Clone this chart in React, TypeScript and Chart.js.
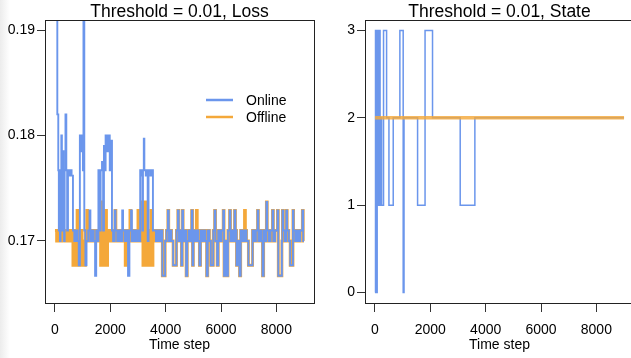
import React, { useEffect, useRef } from "react";
import { Chart, registerables } from "chart.js";

Chart.register(...registerables);

const FONT = '"Liberation Sans", Arial, Helvetica, sans-serif';
const BLUE = "#6b96ec";
const ORANGE = "#f4a83a";
const ORANGE_T = "rgba(244,168,58,0.82)";

const titles = ["Threshold = 0.01, Loss", "Threshold = 0.01, State"];
const seriesNames = ["Online", "Offline"];
const xTitle = "Time step";
const xTicks = [0, 2000, 4000, 6000, 8000];
const lossTicks = [0.17, 0.18, 0.19];
const stateTicks = [0, 1, 2, 3];

// [time step, loss]
const lossOnline: [number, number][] = [
  [0, 0.2], [85, 0.182], [120, 0.1767], [140, 0.171], [160, 0.1767], [180, 0.17], [200, 0.1765],
  [230, 0.18], [250, 0.171], [270, 0.1767], [290, 0.1785], [310, 0.1767], [330, 0.17], [350, 0.1767],
  [380, 0.182], [410, 0.1767], [440, 0.171], [470, 0.1767], [500, 0.1762], [540, 0.1767], [600, 0.1762],
  [650, 0.171], [700, 0.17], [760, 0.171], [820, 0.17], [860, 0.1677], [900, 0.18], [940, 0.1785],
  [970, 0.18], [1010, 0.1767], [1030, 0.2], [1060, 0.171], [1100, 0.1677], [1140, 0.17], [1200, 0.171],
  [1250, 0.1729], [1280, 0.17], [1340, 0.171], [1400, 0.17], [1450, 0.1667], [1490, 0.171], [1540, 0.17],
  [1570, 0.1767], [1620, 0.171], [1650, 0.1767], [1700, 0.1775], [1740, 0.171], [1770, 0.179], [1800, 0.1767],
  [1830, 0.18], [1880, 0.1785], [1920, 0.18], [1980, 0.1767], [2030, 0.1795], [2060, 0.171], [2100, 0.17],
  [2160, 0.1729], [2190, 0.171], [2250, 0.17], [2310, 0.171], [2370, 0.17], [2430, 0.1729], [2460, 0.171],
  [2520, 0.17], [2580, 0.171], [2640, 0.1667], [2690, 0.171], [2750, 0.1729], [2780, 0.17], [2840, 0.171],
  [2900, 0.17], [2960, 0.171], [3030, 0.17], [3080, 0.1767], [3130, 0.1762], [3160, 0.171], [3180, 0.1767],
  [3210, 0.1797], [3230, 0.1767], [3280, 0.1762], [3310, 0.1767], [3350, 0.17], [3380, 0.1767], [3450, 0.1762],
  [3480, 0.1767], [3540, 0.171],
  [3600, 0.171], [3650, 0.17], [3700, 0.171], [3760, 0.17], [3820, 0.171], [3880, 0.1667], [3980, 0.17],
  [4030, 0.171], [4080, 0.1729], [4110, 0.17], [4160, 0.171], [4210, 0.17], [4270, 0.1677], [4390, 0.171],
  [4440, 0.1729], [4470, 0.17], [4520, 0.171], [4570, 0.1677], [4600, 0.1729], [4630, 0.17], [4680, 0.171],
  [4740, 0.1667], [4780, 0.17], [4830, 0.171], [4880, 0.17], [4940, 0.1729], [4970, 0.1677], [5000, 0.171],
  [5060, 0.17], [5110, 0.171], [5170, 0.17], [5220, 0.1677], [5260, 0.171], [5310, 0.17], [5370, 0.171],
  [5430, 0.17], [5480, 0.1667], [5520, 0.171], [5580, 0.17], [5630, 0.1677], [5720, 0.171], [5770, 0.1729],
  [5800, 0.17], [5860, 0.1677], [5900, 0.171], [5960, 0.17], [6020, 0.171], [6080, 0.1729], [6110, 0.1667],
  [6160, 0.17], [6210, 0.1667], [6250, 0.171], [6310, 0.1729], [6340, 0.17], [6400, 0.171], [6450, 0.17],
  [6490, 0.1729], [6520, 0.171], [6560, 0.1677], [6600, 0.17], [6670, 0.1667], [6710, 0.171], [6780, 0.17],
  [6850, 0.171], [6920, 0.17], [6990, 0.1677], [7140, 0.171], [7200, 0.17], [7260, 0.171], [7320, 0.1729],
  [7350, 0.17], [7410, 0.171], [7460, 0.17], [7500, 0.1667], [7540, 0.171], [7600, 0.17], [7640, 0.1737],
  [7670, 0.171], [7730, 0.17], [7790, 0.171], [7860, 0.1729], [7890, 0.17], [7950, 0.171], [8040, 0.1729],
  [8070, 0.1667], [8200, 0.17], [8220, 0.1729], [8250, 0.171], [8310, 0.17], [8360, 0.1729], [8390, 0.171],
  [8450, 0.17], [8500, 0.1677], [8600, 0.1729], [8620, 0.171], [8680, 0.17], [8740, 0.171], [8800, 0.17],
  [8860, 0.171], [8940, 0.1729], [8970, 0.17], [9000, 0.17],
];

const lossOffline: [number, number][] = [
  [0, 0.171], [60, 0.17], [120, 0.171], [200, 0.17], [270, 0.1729], [310, 0.171], [380, 0.17], [450, 0.171],
  [520, 0.17], [600, 0.171], [650, 0.1677], [700, 0.171], [760, 0.1677], [800, 0.1729], [830, 0.17],
  [900, 0.1677], [940, 0.171], [980, 0.1677], [1020, 0.17], [1060, 0.1677], [1100, 0.171], [1150, 0.1729],
  [1180, 0.17], [1250, 0.171], [1320, 0.17], [1400, 0.171], [1480, 0.17], [1560, 0.171], [1620, 0.1729],
  [1650, 0.1677], [1700, 0.1737], [1730, 0.1677], [1760, 0.171], [1790, 0.1677], [1830, 0.1729], [1860, 0.1677],
  [1900, 0.17], [1960, 0.171], [2050, 0.17], [2120, 0.171], [2170, 0.1729], [2200, 0.17], [2300, 0.171],
  [2380, 0.17], [2470, 0.171], [2540, 0.1677], [2580, 0.17], [2640, 0.171], [2710, 0.1729], [2740, 0.17],
  [2800, 0.171], [2900, 0.17], [3000, 0.1729], [3030, 0.171], [3100, 0.17], [3150, 0.1737], [3180, 0.1677],
  [3220, 0.1737], [3250, 0.1677], [3290, 0.171], [3320, 0.1737], [3350, 0.1677], [3390, 0.171], [3430, 0.1677],
  [3470, 0.1729], [3500, 0.1677], [3540, 0.17],
  [3600, 0.171], [3650, 0.17], [3700, 0.171], [3760, 0.17], [3820, 0.171], [3880, 0.1667], [3980, 0.17],
  [4030, 0.171], [4080, 0.1729], [4110, 0.17], [4160, 0.171], [4210, 0.17], [4270, 0.1677], [4390, 0.171],
  [4440, 0.1729], [4470, 0.17], [4520, 0.171], [4570, 0.1677], [4600, 0.1729], [4630, 0.17], [4680, 0.171],
  [4740, 0.1667], [4780, 0.17], [4830, 0.171], [4880, 0.17], [4940, 0.1729], [4970, 0.1677], [5000, 0.171],
  [5060, 0.17], [5110, 0.1729], [5140, 0.171], [5170, 0.17], [5220, 0.1677], [5260, 0.171], [5310, 0.17],
  [5370, 0.171], [5430, 0.17], [5480, 0.1667], [5520, 0.171], [5580, 0.17], [5630, 0.1677], [5720, 0.171],
  [5770, 0.1729], [5800, 0.17], [5860, 0.1677], [5900, 0.171], [5960, 0.17], [6020, 0.171], [6080, 0.1729],
  [6110, 0.1667], [6160, 0.17], [6210, 0.1667], [6250, 0.171], [6310, 0.1729], [6340, 0.17], [6400, 0.171],
  [6450, 0.17], [6490, 0.1729], [6520, 0.171], [6560, 0.1677], [6600, 0.17], [6670, 0.1667], [6710, 0.171],
  [6780, 0.17], [6850, 0.1729], [6880, 0.171], [6920, 0.17], [6990, 0.1677], [7140, 0.171], [7200, 0.17],
  [7260, 0.171], [7320, 0.1729], [7350, 0.17], [7410, 0.171], [7460, 0.17], [7500, 0.1667], [7540, 0.171],
  [7600, 0.17], [7640, 0.1737], [7670, 0.171], [7730, 0.17], [7790, 0.171], [7860, 0.1729], [7890, 0.17],
  [7950, 0.171], [8040, 0.1729], [8070, 0.1667], [8200, 0.17], [8220, 0.1729], [8250, 0.171], [8310, 0.17],
  [8360, 0.1729], [8390, 0.171], [8450, 0.17], [8500, 0.1677], [8600, 0.1729], [8620, 0.171], [8680, 0.17],
  [8740, 0.171], [8800, 0.17], [8860, 0.171], [8940, 0.1729], [8970, 0.17], [9000, 0.17],
];

// [time step, state]
const stateOnline: [number, number][] = [
  [0, 0], [20, 3], [35, 1], [50, 3], [65, 0], [80, 3], [95, 2], [110, 3], [125, 1], [140, 3], [155, 2],
  [170, 3], [185, 1], [200, 2], [240, 1], [310, 3], [420, 2], [505, 1], [660, 2], [900, 3], [1020, 0],
  [1050, 2], [1540, 1], [1810, 3], [2080, 2], [3080, 1], [3610, 2], [9000, 2],
];
const stateOffline: [number, number][] = [
  [0, 2], [9000, 2],
];

const toXY = (a: [number, number][]) => a.map(([x, y]) => ({ x, y }));

function makeConfig(opts: {
  title: string;
  yMin: number;
  yMax: number;
  yTicks: number[];
  yFmt: (v: number) => string;
  yWidth: number;
  height: number;
  padRight: number;
  legendX: number;
  legendY: number;
  datasets: any[];
}): any {
  const panelPlugin = {
    id: "panelDeco",
    afterDraw(chart: any) {
      const { ctx, chartArea } = chart;
      const { left, top, right, bottom } = chartArea;
      ctx.save();
      ctx.strokeStyle = "#222";
      ctx.lineWidth = 1;
      ctx.strokeRect(Math.round(left) + 0.5, Math.round(top) + 0.5, Math.round(right - left), Math.round(bottom - top));
      ctx.fillStyle = "#000";
      ctx.font = `17.5px ${FONT}`;
      ctx.textAlign = "center";
      ctx.textBaseline = "alphabetic";
      ctx.fillText(opts.title, (left + right) / 2, 17);
      const items = [
        { name: seriesNames[0], color: BLUE },
        { name: seriesNames[1], color: ORANGE },
      ];
      ctx.font = `14px ${FONT}`;
      ctx.textAlign = "left";
      items.forEach((it, i) => {
        const y = opts.legendY + i * 17;
        ctx.strokeStyle = it.color;
        ctx.lineWidth = 2.5;
        ctx.beginPath();
        ctx.moveTo(opts.legendX, y);
        ctx.lineTo(opts.legendX + 27, y);
        ctx.stroke();
        ctx.fillStyle = "#000";
        ctx.fillText(it.name, opts.legendX + 40, y + 5);
      });
      ctx.restore();
    },
  };

  return {
    type: "line",
    data: { datasets: opts.datasets },
    options: {
      animation: false,
      responsive: false,
      maintainAspectRatio: false,
      events: [],
      layout: { padding: { top: 20, right: opts.padRight, left: 0, bottom: 0 } },
      plugins: { legend: { display: false }, title: { display: false }, tooltip: { enabled: false } },
      elements: { point: { radius: 0 } },
      scales: {
        x: {
          type: "linear",
          min: -360,
          max: 9360,
          afterBuildTicks: (s: any) => {
            s.ticks = xTicks.map((v) => ({ value: v }));
          },
          afterFit: (s: any) => {
            s.height = opts.height - 303;
          },
          grid: { drawOnChartArea: false, drawTicks: true, tickLength: 9, color: "#333", tickColor: "#333" },
          border: { display: false },
          ticks: {
            autoSkip: false,
            maxRotation: 0,
            padding: 9.5,
            color: "#000",
            font: { family: FONT, size: 14 },
            callback: (v: number) => String(v),
          },
          title: {
            display: true,
            text: xTitle,
            color: "#000",
            font: { family: FONT, size: 14 },
            padding: { top: 0, bottom: 4.6 },
          },
        },
        y: {
          type: "linear",
          min: opts.yMin,
          max: opts.yMax,
          afterBuildTicks: (s: any) => {
            s.ticks = opts.yTicks.map((v) => ({ value: v }));
          },
          afterFit: (s: any) => {
            s.width = opts.yWidth;
          },
          grid: { drawOnChartArea: false, drawTicks: true, tickLength: 8, color: "#333", tickColor: "#333" },
          border: { display: false },
          ticks: {
            autoSkip: false,
            padding: 2,
            color: "#000",
            font: { family: FONT, size: 14 },
            callback: (v: number) => opts.yFmt(v),
          },
        },
      },
    },
    plugins: [panelPlugin],
  };
}

export default function App() {
  const leftRef = useRef<HTMLCanvasElement>(null);
  const rightRef = useRef<HTMLCanvasElement>(null);

  useEffect(() => {
    document.body.style.margin = "0";
    const H = 358;
    const c1 = new Chart(
      leftRef.current!,
      makeConfig({
        title: titles[0],
        yMin: 0.16412,
        yMax: 0.19095,
        yTicks: lossTicks,
        yFmt: (v) => v.toFixed(2),
        yWidth: 45,
        height: H,
        padRight: 2,
        legendX: 206,
        legendY: 100,
        datasets: [
          {
            label: seriesNames[0],
            data: toXY(lossOnline),
            borderColor: BLUE,
            borderWidth: 1.9,
            stepped: true,
            pointRadius: 0,
          },
          {
            label: seriesNames[1],
            data: toXY(lossOffline),
            borderColor: ORANGE,
            borderWidth: 2.9,
            stepped: true,
            pointRadius: 0,
          },
        ],
      })
    );
    const c2 = new Chart(
      rightRef.current!,
      makeConfig({
        title: titles[1],
        yMin: -0.12,
        yMax: 3.12,
        yTicks: stateTicks,
        yFmt: (v) => String(v),
        yWidth: 49,
        height: H,
        padRight: 2,
        legendX: 527,
        legendY: 48,
        datasets: [
          {
            label: seriesNames[1],
            data: toXY(stateOffline),
            borderColor: ORANGE_T,
            borderWidth: 3.5,
            stepped: true,
            pointRadius: 0,
          },
          {
            label: seriesNames[0],
            data: toXY(stateOnline),
            borderColor: BLUE,
            borderWidth: 1.5,
            stepped: true,
            pointRadius: 0,
          },
        ],
      })
    );
    return () => {
      c1.destroy();
      c2.destroy();
    };
  }, []);

  return (
    <div
      style={{
        position: "fixed",
        left: 0,
        top: 0,
        width: 631,
        height: 358,
        overflow: "hidden",
        background: "#fff",
      }}
    >
      <div
        style={{
          position: "absolute",
          left: 0,
          top: 0,
          width: 10,
          height: 358,
          background: "linear-gradient(to right, #ececec, #ffffff)",
        }}
      />
      <canvas ref={leftRef} width={316} height={358} style={{ position: "absolute", left: 0, top: 0 }} />
      <canvas ref={rightRef} width={320} height={358} style={{ position: "absolute", left: 316, top: 0 }} />
    </div>
  );
}
